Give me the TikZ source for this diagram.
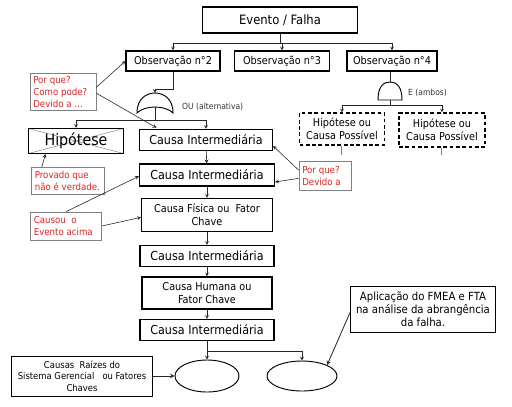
\documentclass[tikz,border=0pt]{standalone}
\usepackage{fontspec}
\setmainfont{DejaVu Sans Condensed}
\usepackage{xcolor}
\usetikzlibrary{positioning, arrows, shapes}

\definecolor{notered}{RGB}{215,35,35}

\begin{document}
\begin{tikzpicture}[x=0.03cm, y=-0.03cm,
        box/.style={draw, line width=0.9pt, inner sep=0pt, align=center, font=\fontsize{10.6}{12}\selectfont},
        dbox/.style={box, dashed, dash pattern=on 3.2pt off 2.2pt},
        note/.style={draw=gray, line width=0.6pt, inner xsep=0.1cm, inner ysep=0pt, align=flush left, text=notered, font=\fontsize{8.2}{10}\selectfont},
        lbl/.style={text=black!80, font=\fontsize{7.2}{8}\selectfont, inner sep=0pt},
        arr/.style={-stealth, line width=0.5pt, black!85},
        ln/.style={line width=0.5pt, black!85}]
    \useasboundingbox (0,0) rectangle (512,406);

    % topo e observacoes
    \node[box, minimum width=4.65cm, minimum height=0.78cm, font=\fontsize{11}{13}\selectfont] (ev) at (280, 20) {Evento / Falha};
    \node[box, minimum width=2.82cm, minimum height=0.6cm, font=\fontsize{9.2}{11}\selectfont] (obs2) at (173, 61) {Observação n°2};
    \node[box, minimum width=2.85cm, minimum height=0.6cm, font=\fontsize{9.2}{11}\selectfont] (obs3) at (282, 61) {Observação n°3};
    \node[box, minimum width=2.7cm, minimum height=0.6cm, font=\fontsize{9.2}{11}\selectfont] (obs4) at (392, 61) {Observação n°4};

    \coordinate (evsplit) at (280, 43);
    \draw[ln] (ev.south) -- (evsplit);
    \draw[arr] (evsplit) -| (obs2.north);
    \draw[arr] (evsplit) -| (obs3.north);
    \draw[arr] (evsplit) -| (obs4.north);

    % porta OU
    \draw[line width=0.8pt] (137, 113) .. controls (137, 98) and (147, 93) .. (155, 93)
        .. controls (163, 93) and (173, 98) .. (173, 113)
        .. controls (165, 105) and (145, 105) .. cycle;
    \coordinate (orin) at (155, 93);
    \coordinate (orout) at (155, 107);
    \node[lbl, anchor=west] (orlbl) at (182, 107) {OU (alternativa)};

    % porta E
    \draw[line width=0.8pt] (378, 100) .. controls (378, 87) and (383, 82) .. (390, 82)
        .. controls (397, 82) and (402, 87) .. (402, 100) -- cycle;
    \coordinate (andin) at (390, 82);
    \coordinate (andout) at (390, 100);
    \node[lbl, anchor=west] (andlbl) at (408, 93) {E (ambos)};

    \draw[arr] (obs2.south) -- ++(0, 18) -| (orin);
    \draw[ln] (obs4.south -| andin) -- (andin);

    % coluna central
    \node[box, minimum width=2.85cm, minimum height=0.75cm, font=\fontsize{13.5}{15}\selectfont,
          path picture={\draw[gray, line width=0.4pt] (path picture bounding box.north west) -- (path picture bounding box.south east)
                        (path picture bounding box.south west) -- (path picture bounding box.north east);}] (hip) at (76, 141) {Hipótese};
    \node[box, minimum width=3.99cm, minimum height=0.63cm] (ci1) at (206, 140) {Causa Intermediária};
    \node[box, minimum width=4.05cm, minimum height=0.66cm] (ci2) at (207, 175) {Causa Intermediária};
    \node[box, minimum width=3.93cm, minimum height=0.99cm, font=\fontsize{9.2}{11}\selectfont] (cf) at (207, 215) {Causa Física ou~ Fator\\Chave};
    \node[box, minimum width=4.02cm, minimum height=0.63cm] (ci3) at (207, 256) {Causa Intermediária};
    \node[box, minimum width=3.9cm, minimum height=0.96cm, font=\fontsize{9.2}{11}\selectfont] (ch) at (207, 293) {Causa Humana ou\\Fator Chave};
    \node[box, minimum width=4.02cm, minimum height=0.63cm] (ci4) at (207, 330) {Causa Intermediária};

    \coordinate (orsplit) at (155, 120);
    \draw[ln] (orout) -- (orsplit);
    \draw[arr] (orsplit) -| (hip.north);
    \draw[arr] (orsplit) -| (ci1.north);

    \draw[arr] (ci1) -- (ci2);
    \draw[arr] (ci2) -- (cf);
    \draw[arr] (cf) -- (ci3);
    \draw[arr] (ci3) -- (ch);
    \draw[arr] (ch) -- (ci4);

    % hipoteses da observacao 4
    \node[dbox, minimum width=2.55cm, minimum height=0.96cm, font=\fontsize{9.2}{11}\selectfont] (hipa) at (342, 129) {Hipótese ou\\Causa Possível};
    \node[dbox, minimum width=2.58cm, minimum height=1.02cm, font=\fontsize{9.2}{11}\selectfont] (hipb) at (442, 130) {Hipótese ou\\Causa Possível};
    \coordinate (andsplit) at (390, 105);
    \draw[ln] (andout) -- (andsplit);
    \draw[arr] (andsplit) -| (hipa.north);
    \draw[arr] (andsplit) -| (hipb.north);
    \coordinate (hipaend) at (341, 155);
    \coordinate (hipbend) at (441, 155);
    \draw[gray, line width=0.6pt] (hipa.south -| hipaend) -- (hipaend);
    \draw[gray, line width=0.6pt] (hipb.south -| hipbend) -- (hipbend);

    % notas em vermelho
    \node[note, text width=1.78cm, minimum height=1.11cm] (porque) at (63, 92) {Por que?\\Como pode?\\Devido a …};
    \node[note, text width=1.36cm, minimum height=0.87cm] (devido) at (325, 176) {Por que?\\Devido a};
    \node[note, text width=1.99cm, minimum height=0.81cm] (provado) at (68, 181) {Provado que\\não é verdade.};
    \node[note, text width=1.93cm, minimum height=0.84cm] (causou) at (66, 226) {Causou~ o\\Evento acima};

    \draw[arr] ([yshift=4pt]porque.east) -- (obs2.west);
    \draw[arr] ([yshift=-1pt]porque.east) -- ([xshift=15pt, yshift=1pt]ci1.north west);
    \draw[arr] ([yshift=5pt]devido.west) -- ([yshift=-5pt]ci1.east);
    \draw[arr] ([yshift=-2pt]devido.west) -- ([yshift=-6pt]ci2.east);
    \draw[arr] ([xshift=9pt]provado.north west) -- ([xshift=-26pt]hip.south);
    \draw[arr] (causou.north) -- ([yshift=-1pt]ci2.west);
    \draw[arr] (causou.east) -- ([yshift=-2pt]cf.west);

    % causas raizes
    \node[ellipse, draw, line width=0.8pt, minimum width=1.92cm, minimum height=0.96cm] (e1) at (207, 376) {};
    \node[ellipse, draw, line width=0.8pt, minimum width=2.1cm, minimum height=0.9cm] (e2) at (302, 376) {};
    \coordinate (ci4split) at (207, 351);
    \draw[arr] (ci4.south) -- (e1.north);
    \draw[arr] (ci4split) -| (e2.north);

    \node[box, line width=0.8pt, minimum width=4.23cm, minimum height=1.2cm, font=\fontsize{8}{9.8}\selectfont] (raiz) at (82, 376) {Causas~ Raízes do\\Sistema Gerencial~~ ou Fatores\\Chaves};
    \node[box, line width=0.8pt, minimum width=4.35cm, minimum height=1.38cm, font=\fontsize{9.6}{11.2}\selectfont] (apl) at (423, 309) {Aplicação do FMEA e FTA\\na análise da abrangência\\da falha.};
    \draw[arr, line width=0.7pt] (raiz.east) -- (e1.west);
    \draw[arr, line width=0.7pt] ([yshift=-3pt]apl.west) -- (e2.north east);
\end{tikzpicture}
\end{document}
